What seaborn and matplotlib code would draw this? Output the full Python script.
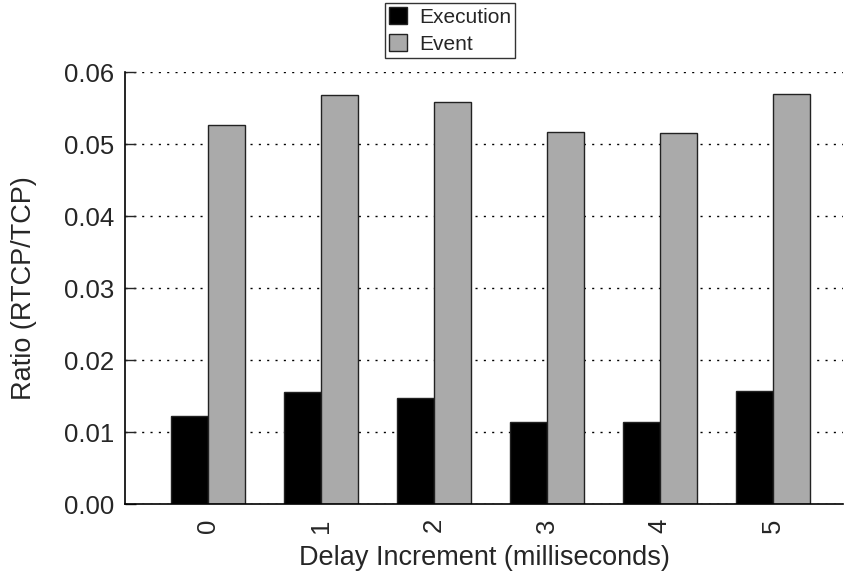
import matplotlib
matplotlib.use("Agg")
import matplotlib.pyplot as plt
import seaborn as sns
import pandas as pd
from matplotlib.ticker import FormatStrFormatter

categories = ["0", "1", "2", "3", "4", "5"]
execution = [0.0122, 0.0156, 0.0147, 0.0114, 0.0114, 0.0157]
event = [0.0527, 0.0569, 0.0559, 0.0517, 0.0516, 0.0570]
series_names = ["Execution", "Event"]
colors = ["#000000", "#aaaaaa"]

df = pd.DataFrame({
    "delay": categories * 2,
    "ratio": execution + event,
    "series": [series_names[0]] * len(categories) + [series_names[1]] * len(categories),
})

sns.set_style("white")
plt.rcParams["font.family"] = ["Liberation Sans", "DejaVu Sans"]

fig = plt.figure(figsize=(8.45, 5.79), dpi=100)
ax = fig.add_axes([125 / 845, 1 - 504.3 / 579, (843 - 125) / 845, (504.3 - 72.3) / 579])

sns.barplot(data=df, x="delay", y="ratio", hue="series", palette=colors,
            width=0.654, edgecolor="#222222", linewidth=1.0, ax=ax,
            saturation=1, legend=True)

ax.set_xlim(-0.731, 5.62)
ax.set_ylim(0, 0.06)
ax.set_yticks([0.00, 0.01, 0.02, 0.03, 0.04, 0.05, 0.06])
ax.yaxis.set_major_formatter(FormatStrFormatter("%.2f"))
ax.yaxis.grid(True, linestyle=(0, (1.5, 4.5)), color="black", linewidth=1.0)
ax.set_axisbelow(True)

for side in ["top", "right"]:
    ax.spines[side].set_visible(False)
for side in ["left", "bottom"]:
    ax.spines[side].set_color("black")
    ax.spines[side].set_linewidth(1.2)

ax.tick_params(axis="y", direction="in", length=8, width=1, labelsize=18.5, pad=8, left=True)
ax.tick_params(axis="x", length=0, labelsize=18.5, pad=10, labelrotation=90)

ax.set_xlabel("Delay Increment (milliseconds)", fontsize=19.5, labelpad=9)
ax.set_ylabel("Ratio (RTCP/TCP)", fontsize=19.5, labelpad=19)

leg = ax.legend(loc="upper center", bbox_to_anchor=(450 / 845, 1 - 3 / 579),
                bbox_transform=fig.transFigure, fontsize=15, frameon=True,
                fancybox=False, edgecolor="black", borderpad=0.2,
                labelspacing=0.35, handlelength=0.85, handleheight=0.85,
                handletextpad=0.6, borderaxespad=0)
leg.get_frame().set_linewidth(1.0)

fig.savefig("out.png", dpi=100)
